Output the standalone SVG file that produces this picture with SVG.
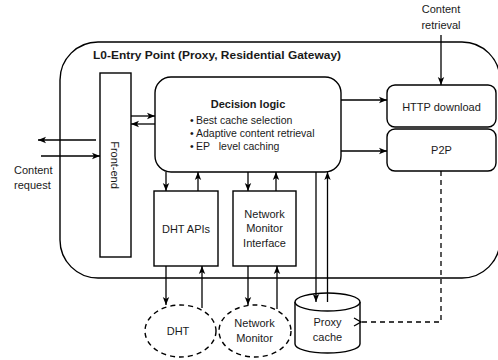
<svg xmlns="http://www.w3.org/2000/svg" width="498" height="360" viewBox="0 0 498 360">
<style>
.s{fill:#fff;stroke:#000;stroke-width:1.4}
.ln{fill:none;stroke:#000;stroke-width:1.3}
.d{stroke-dasharray:5,4}
text{font-family:"Liberation Sans",Arial,sans-serif;font-size:11px;fill:#1a1a1a}
.b{font-weight:bold}
.m{text-anchor:middle}
</style>
<defs>
<marker id="a" markerUnits="userSpaceOnUse" markerWidth="9" markerHeight="8" refX="8" refY="4" orient="auto">
<path d="M0,0.8 L8,4 L0,7.2 L2,4 z" fill="#000"/>
</marker>
<marker id="o" markerUnits="userSpaceOnUse" markerWidth="10" markerHeight="10" refX="1" refY="5" orient="auto">
<path d="M8,1 L1,5 L8,9" fill="none" stroke="#000" stroke-width="1.3"/>
</marker>
</defs>
<g id="entry-point">
<rect class="s" x="60" y="42" width="440" height="236" rx="38"/>
<text class="b" x="93" y="59" textLength="248" lengthAdjust="spacingAndGlyphs">L0-Entry Point (Proxy, Residential Gateway)</text>
</g>
<g id="front-end">
<rect class="s" x="100" y="73" width="31" height="184"/>
<text class="m" transform="translate(111,165) rotate(90)">Front-end</text>
</g>
<g id="decision-logic">
<rect class="s" x="155" y="77" width="186" height="95" rx="16"/>
<text class="b m" x="248" y="108">Decision logic</text>
<text x="190" y="124" style="font-size:10.5px">•<tspan x="196">Best cache selection</tspan></text>
<text x="190" y="137" style="font-size:10.5px">•<tspan x="196">Adaptive content retrieval</tspan></text>
<text x="190" y="150" style="font-size:10.5px">•<tspan x="196">EP&#160;&#160;&#160;level caching</tspan></text>
</g>
<g id="http-download">
<rect class="s" x="387" y="85" width="109" height="42" rx="8"/>
<text class="m" x="441.5" y="111">HTTP download</text>
</g>
<g id="p2p">
<rect class="s" x="387" y="129" width="109" height="42" rx="8"/>
<text class="m" x="441.5" y="154">P2P</text>
</g>
<g id="dht-apis">
<rect class="s" x="154" y="191" width="64" height="75"/>
<text class="m" x="186" y="233">DHT APIs</text>
</g>
<g id="nm-interface">
<rect class="s" x="233" y="191" width="63" height="75"/>
<text class="m" x="264.5" y="218">Network</text>
<text class="m" x="264.5" y="232">Monitor</text>
<text class="m" x="264.5" y="247">Interface</text>
</g>
<g id="dht">
<ellipse class="s d" cx="180.5" cy="331" rx="35.5" ry="26"/>
<text class="m" x="178" y="335">DHT</text>
</g>
<g id="network-monitor">
<ellipse class="s d" cx="255" cy="331" rx="36" ry="26"/>
<text class="m" x="254.5" y="327">Network</text>
<text class="m" x="254.5" y="342">Monitor</text>
</g>
<g id="proxy-cache">
<path class="s" d="M295,302 L295,344 A32.5,9 0 0 0 360,344 L360,302"/>
<ellipse class="s" cx="327.5" cy="302" rx="32.5" ry="9"/>
<text class="m" x="327.5" y="326">Proxy</text>
<text class="m" x="327.5" y="341">cache</text>
</g>
<g id="labels">
<text x="14" y="174">Content</text>
<text x="14" y="189">request</text>
<text class="m" x="441" y="13">Content</text>
<text class="m" x="441" y="29">retrieval</text>
</g>
<g id="connectors">
<line class="ln" x1="96" y1="140" x2="38" y2="140" marker-end="url(#a)"/>
<line class="ln" x1="41" y1="156" x2="100" y2="156" marker-end="url(#a)"/>
<line class="ln" x1="131" y1="116" x2="155" y2="116" marker-end="url(#a)"/>
<line class="ln" x1="155" y1="124" x2="131" y2="124" marker-end="url(#a)"/>
<line class="ln" x1="341" y1="100" x2="387" y2="100" marker-end="url(#a)"/>
<line class="ln" x1="341" y1="151" x2="387" y2="151" marker-end="url(#a)"/>
<line class="ln" x1="441" y1="35" x2="441" y2="85" marker-end="url(#a)"/>
<line class="ln" x1="166" y1="172" x2="166" y2="191" marker-end="url(#a)"/>
<line class="ln" x1="198" y1="191" x2="198" y2="172" marker-end="url(#a)"/>
<line class="ln" x1="248" y1="172" x2="248" y2="191" marker-end="url(#a)"/>
<line class="ln" x1="276" y1="191" x2="276" y2="172" marker-end="url(#a)"/>
<line class="ln" x1="166" y1="266" x2="166" y2="305" marker-end="url(#a)"/>
<line class="ln" x1="202" y1="308" x2="202" y2="266" marker-end="url(#a)"/>
<line class="ln" x1="248" y1="266" x2="248" y2="305" marker-end="url(#a)"/>
<line class="ln" x1="277" y1="309" x2="277" y2="266" marker-end="url(#a)"/>
<line class="ln" x1="316" y1="172" x2="316" y2="302" marker-end="url(#a)"/>
<line class="ln" x1="327.5" y1="302" x2="327.5" y2="172" marker-end="url(#a)"/>
<path class="ln d" d="M441,171 L441,322 L361,322" marker-end="url(#o)"/>
</g>
</svg>
